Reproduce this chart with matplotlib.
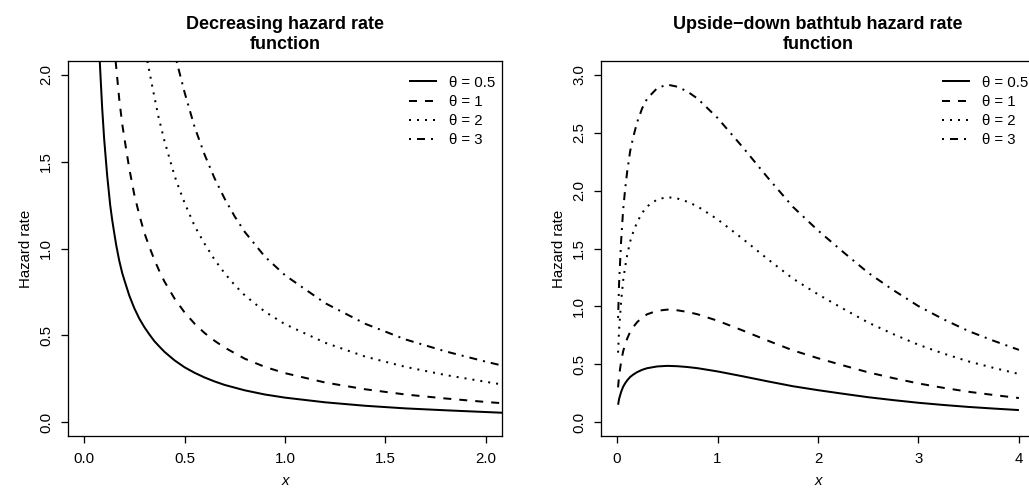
import matplotlib
matplotlib.use("Agg")
import matplotlib.pyplot as plt

plt.rcParams['font.family'] = ['Liberation Sans', 'DejaVu Sans']

# ---------------- Left panel: decreasing hazard rate ----------------
left_x_05 = [0.078, 0.09, 0.10, 0.115, 0.13, 0.14, 0.15, 0.16, 0.175, 0.19, 0.2, 0.225,
             0.25, 0.275, 0.3, 0.325, 0.35, 0.375, 0.4, 0.45, 0.5, 0.55, 0.6, 0.65,
             0.7, 0.8, 0.9, 1.0, 1.2, 1.4, 1.6, 1.8, 2.0, 2.08]
left_y_05 = [2.08, 1.81, 1.63, 1.42, 1.25, 1.164, 1.09, 1.019, 0.93, 0.858, 0.82, 0.729,
             0.656, 0.596, 0.547, 0.505, 0.466, 0.435, 0.405, 0.356, 0.316, 0.284, 0.257,
             0.234, 0.214, 0.183, 0.159, 0.141, 0.114, 0.094, 0.079, 0.068, 0.058, 0.054]

left_x_1 = [0.157, 0.175, 0.19, 0.2, 0.225, 0.25, 0.275, 0.3, 0.325, 0.35, 0.375, 0.4,
            0.45, 0.5, 0.55, 0.6, 0.65, 0.7, 0.8, 0.9, 1.0, 1.2, 1.4, 1.6, 1.8, 2.0, 2.08]
left_y_1 = [2.08, 1.86, 1.716, 1.64, 1.46, 1.31, 1.193, 1.09, 1.009, 0.935, 0.869, 0.81,
            0.712, 0.632, 0.567, 0.513, 0.468, 0.429, 0.365, 0.318, 0.282, 0.228, 0.189,
            0.159, 0.136, 0.116, 0.109]

left_x_2 = [0.315, 0.34, 0.37, 0.4, 0.425, 0.45, 0.475, 0.5, 0.55, 0.6, 0.65, 0.7, 0.75,
            0.8, 0.9, 1.0, 1.2, 1.4, 1.6, 1.8, 2.0, 2.08]
left_y_2 = [2.08, 1.93, 1.76, 1.62, 1.52, 1.42, 1.339, 1.264, 1.13, 1.027, 0.935, 0.857,
            0.789, 0.73, 0.636, 0.564, 0.457, 0.377, 0.318, 0.271, 0.232, 0.217]

left_x_3 = [0.46, 0.5, 0.55, 0.6, 0.65, 0.7, 0.75, 0.8, 0.9, 1.0, 1.2, 1.4, 1.6, 1.8,
            2.0, 2.08]
left_y_3 = [2.08, 1.90, 1.70, 1.54, 1.403, 1.286, 1.184, 1.095, 0.953, 0.846, 0.685,
            0.566, 0.476, 0.407, 0.348, 0.326]

# ---------------- Right panel: upside-down bathtub hazard rate ----------------
right_x = [0.01, 0.02, 0.04, 0.06, 0.08, 0.1, 0.13, 0.16, 0.2, 0.25, 0.3, 0.4, 0.5, 0.6,
           0.7, 0.8, 1.0, 1.25, 1.5, 1.75, 2.0, 2.25, 2.5, 2.75, 3.0, 3.25, 3.5, 3.75, 4.0]
right_y_05 = [0.15, 0.20, 0.26, 0.305, 0.335, 0.36, 0.39, 0.41, 0.432, 0.452, 0.466,
              0.481, 0.486, 0.483, 0.476, 0.466, 0.438, 0.396, 0.352, 0.31, 0.276,
              0.245, 0.215, 0.19, 0.167, 0.148, 0.131, 0.117, 0.104]
right_y_1 = [0.30, 0.40, 0.52, 0.61, 0.67, 0.72, 0.78, 0.82, 0.864, 0.904, 0.932,
             0.962, 0.972, 0.966, 0.952, 0.932, 0.876, 0.792, 0.704, 0.62, 0.552,
             0.49, 0.43, 0.38, 0.334, 0.296, 0.262, 0.234, 0.208]
right_y_2 = [0.60, 0.80, 1.04, 1.22, 1.34, 1.44, 1.56, 1.64, 1.728, 1.808, 1.864,
             1.924, 1.944, 1.932, 1.904, 1.864, 1.752, 1.584, 1.408, 1.24, 1.104,
             0.98, 0.86, 0.76, 0.668, 0.592, 0.524, 0.468, 0.416]
right_y_3 = [0.90, 1.20, 1.56, 1.83, 2.01, 2.16, 2.34, 2.46, 2.592, 2.712, 2.796,
             2.886, 2.916, 2.898, 2.856, 2.796, 2.628, 2.376, 2.112, 1.86, 1.656,
             1.47, 1.29, 1.14, 1.002, 0.888, 0.786, 0.702, 0.624]

legend_labels = ["θ = 0.5", "θ = 1", "θ = 2", "θ = 3"]
left_xticks = [0.0, 0.5, 1.0, 1.5, 2.0]
left_yticks = [0.0, 0.5, 1.0, 1.5, 2.0]
right_xticks = [0, 1, 2, 3, 4]
right_yticks = [0.0, 0.5, 1.0, 1.5, 2.0, 2.5, 3.0]

W, H = 1029, 492
DPI = 100
PX = 72.0 / DPI  # points per pixel

fig = plt.figure(figsize=(W / DPI, H / DPI), dpi=DPI)

LW = 2 * PX
styles = [
    dict(linestyle='-'),
    dict(linestyle=(0, (4, 4))),
    dict(linestyle=(0, (1, 3))),
    dict(linestyle=(0, (1, 3, 4, 3))),
]

tick_fs = 15 * PX
lab_fs = 15 * PX
leg_fs = 15 * PX
title_fs = 18 * PX


def style_axes(ax, xticks, yticks, xlim, ylim, xfmt):
    ax.set_xlim(*xlim)
    ax.set_ylim(*ylim)
    ax.set_xticks(xticks)
    ax.set_xticklabels([xfmt.format(v) for v in xticks])
    ax.set_yticks(yticks)
    ax.set_yticklabels(["{:.1f}".format(v) for v in yticks], rotation=90, va='center')
    for s in ax.spines.values():
        s.set_linewidth(1.3 * PX)
        s.set_color('black')
    ax.tick_params(axis='both', direction='out', length=7 * PX, width=1.3 * PX,
                   labelsize=tick_fs, colors='black')
    ax.tick_params(axis='x', pad=9 * PX)
    ax.tick_params(axis='y', pad=8 * PX)
    ax.set_xlabel('x', fontsize=lab_fs, style='italic', labelpad=8 * PX)
    ax.set_ylabel('Hazard rate', fontsize=lab_fs, labelpad=6 * PX)


def add_legend(ax):
    ax.legend(loc='upper right', bbox_to_anchor=(0.985, 0.961), frameon=False,
              fontsize=leg_fs, handlelength=1.87, handletextpad=0.8, labelspacing=0.35,
              borderpad=0, borderaxespad=0)


# left axes
axL = fig.add_axes([68 / W, (H - 436) / H, 434 / W, 375 / H])
series_L = [(left_x_05, left_y_05), (left_x_1, left_y_1), (left_x_2, left_y_2), (left_x_3, left_y_3)]
for (xs, ys), st, lab in zip(series_L, styles, legend_labels):
    axL.plot(xs, ys, color='black', lw=LW, label=lab, solid_capstyle='butt',
             dash_capstyle='butt', **st)
style_axes(axL, left_xticks, left_yticks, (-0.08, 2.08), (-0.08, 2.08), "{:.1f}")
axL.set_title("Decreasing hazard rate\nfunction", fontsize=title_fs, fontweight='bold',
              pad=12 * PX, linespacing=1.25)
add_legend(axL)

# right axes
axR = fig.add_axes([601 / W, (H - 436) / H, 434 / W, 375 / H])
for ys, st, lab in zip([right_y_05, right_y_1, right_y_2, right_y_3], styles, legend_labels):
    axR.plot(right_x, ys, color='black', lw=LW, label=lab, solid_capstyle='butt',
             dash_capstyle='butt', **st)
style_axes(axR, right_xticks, right_yticks, (-0.16, 4.16), (-0.12, 3.12), "{:d}")
axR.set_title("Upside\u2212down bathtub hazard rate\nfunction", fontsize=title_fs,
              fontweight='bold', pad=12 * PX, linespacing=1.25)
add_legend(axR)

fig.savefig("out.png", dpi=DPI)
